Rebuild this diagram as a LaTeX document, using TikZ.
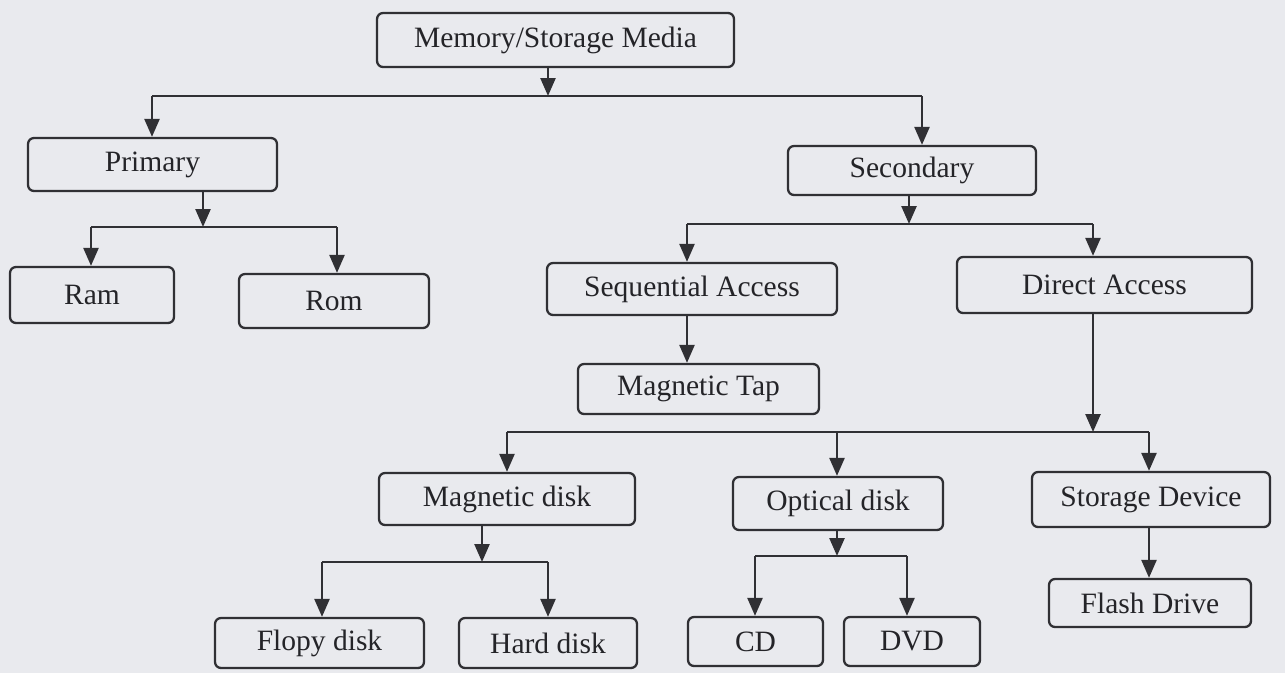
\documentclass[tikz,border=0pt]{standalone}
\usepackage{fontspec}
\setmainfont{Liberation Serif}
\usetikzlibrary{arrows.meta}
\definecolor{paper}{RGB}{233,234,238}
\definecolor{ink}{RGB}{48,48,52}
\definecolor{txt}{RGB}{36,36,40}
\tikzset{
  box/.style={draw=ink, line width=1.3pt, rounded corners=0.12cm, inner sep=0pt,
    text=txt, font=\fontsize{16.8}{19}\selectfont},
  wire/.style={draw=ink, line width=1.4pt},
  arr/.style={wire, -{Triangle[length=0.36cm,width=0.3cm]}}
}
\begin{document}
\begin{tikzpicture}[x=0.02cm,y=-0.02cm]
\fill[paper] (0,0) rectangle (1285,673);
\useasboundingbox (0,0) rectangle (1285,673);

% nodes
\node[box, minimum width=7.14cm, minimum height=1.08cm] (mem) at (555.5,40) {Memory/Storage Media};
\node[box, minimum width=4.98cm, minimum height=1.06cm] (prim) at (152.5,164.5) {Primary};
\node[box, minimum width=4.96cm, minimum height=0.98cm] (sec) at (912,170.5) {Secondary};
\node[box, minimum width=3.28cm, minimum height=1.12cm] (ram) at (92,295) {Ram};
\node[box, minimum width=3.80cm, minimum height=1.08cm] (rom) at (334,301) {Rom};
\node[box, minimum width=5.80cm, minimum height=1.04cm] (seq) at (692,289) {Sequential Access};
\node[box, minimum width=5.90cm, minimum height=1.12cm] (dir) at (1104.5,285) {Direct Access};
\node[box, minimum width=4.82cm, minimum height=1.00cm] (tap) at (698.5,389) {Magnetic Tap};
\node[box, minimum width=5.12cm, minimum height=1.04cm] (mdisk) at (507,499) {Magnetic disk};
\node[box, minimum width=4.20cm, minimum height=1.06cm] (odisk) at (838,503.5) {Optical disk};
\node[box, minimum width=4.76cm, minimum height=1.10cm] (sdev) at (1151,499.5) {Storage Device};
\node[box, minimum width=4.04cm, minimum height=0.96cm] (flash) at (1150,603) {Flash Drive};
\node[box, minimum width=4.18cm, minimum height=1.00cm] (flopy) at (319.5,643) {Flopy disk};
\node[box, minimum width=3.56cm, minimum height=1.00cm] (hard) at (548,643) {Hard disk};
\node[box, minimum width=2.70cm, minimum height=0.98cm] (cd) at (755.5,641.5) {CD};
\node[box, minimum width=2.72cm, minimum height=0.98cm] (dvd) at (912,641.5) {DVD};

% bus junctions
\coordinate (b0) at (548,96);  \coordinate (b0l) at (152,96);  \coordinate (b0r) at (922,96);
\coordinate (b1) at (203,227); \coordinate (b1l) at (91,227);  \coordinate (b1r) at (337,227);
\coordinate (b2) at (909,224); \coordinate (b2l) at (687,224); \coordinate (b2r) at (1093,224);
\coordinate (b3) at (1093,432);\coordinate (b3l) at (507,432); \coordinate (b3m) at (837,432); \coordinate (b3r) at (1149,432);
\coordinate (b4) at (482,562); \coordinate (b4l) at (322,562); \coordinate (b4r) at (548,562);
\coordinate (b5) at (837,556); \coordinate (b5l) at (755,556); \coordinate (b5r) at (907,556);

% Memory -> Primary / Secondary
\draw[arr] (mem.south -| b0) -- (b0);
\draw[wire] (b0l) -- (b0r);
\draw[arr] (b0l) -- (prim.north -| b0l);
\draw[arr] (b0r) -- (sec.north -| b0r);

% Primary -> Ram / Rom
\draw[arr] (prim.south -| b1) -- (b1);
\draw[wire] (b1l) -- (b1r);
\draw[arr] (b1l) -- (ram.north -| b1l);
\draw[arr] (b1r) -- (rom.north -| b1r);

% Secondary -> Sequential / Direct
\draw[arr] (sec.south -| b2) -- (b2);
\draw[wire] (b2l) -- (b2r);
\draw[arr] (b2l) -- (seq.north -| b2l);
\draw[arr] (b2r) -- (dir.north -| b2r);

% Sequential -> Magnetic Tap
\draw[arr] (seq.south -| b2l) -- (tap.north -| b2l);

% Direct -> disks / device
\draw[arr] (dir.south -| b3) -- (b3);
\draw[wire] (b3l) -- (b3r);
\draw[arr] (b3l) -- (mdisk.north -| b3l);
\draw[arr] (b3m) -- (odisk.north -| b3m);
\draw[arr] (b3r) -- (sdev.north -| b3r);

% Magnetic disk -> Flopy / Hard
\draw[arr] (mdisk.south -| b4) -- (b4);
\draw[wire] (b4l) -- (b4r);
\draw[arr] (b4l) -- (flopy.north -| b4l);
\draw[arr] (b4r) -- (hard.north -| b4r);

% Optical disk -> CD / DVD
\draw[arr] (odisk.south -| b5) -- (b5);
\draw[wire] (b5l) -- (b5r);
\draw[arr] (b5l) -- (cd.north -| b5l);
\draw[arr] (b5r) -- (dvd.north -| b5r);

% Storage Device -> Flash Drive
\draw[arr] (sdev.south -| b3r) -- (flash.north -| b3r);
\end{tikzpicture}
\end{document}
